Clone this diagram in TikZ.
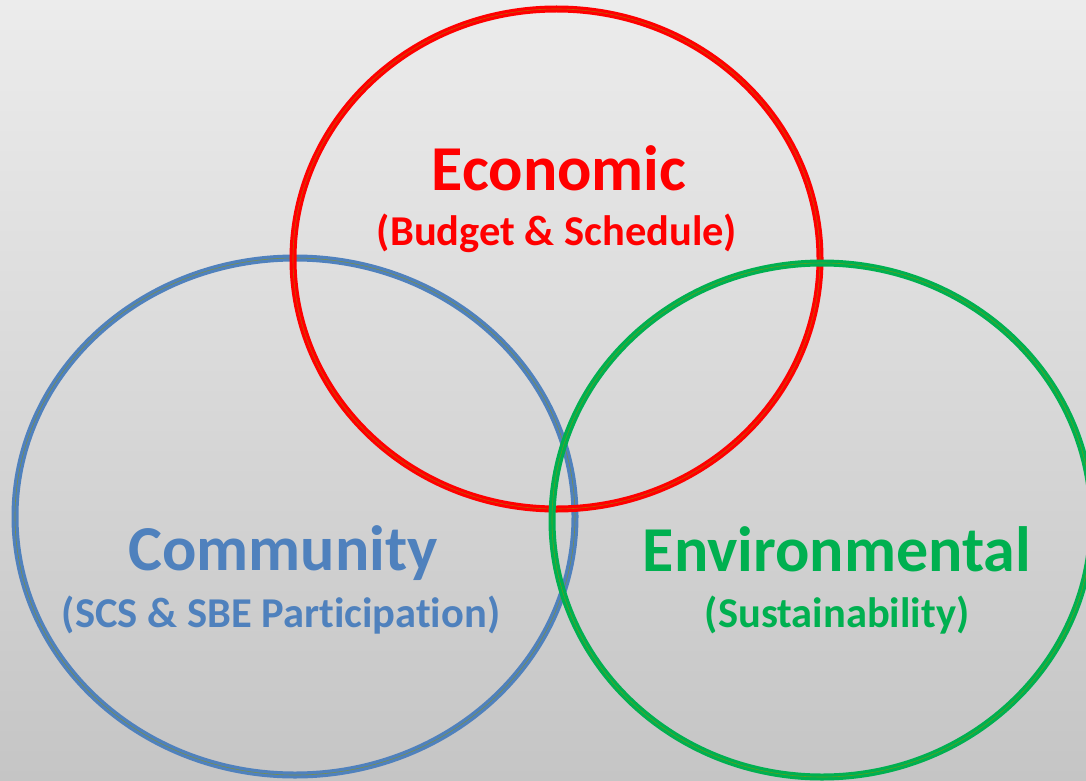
\documentclass[tikz,border=0pt]{standalone}
\usepackage{fontspec}
\setmainfont[Ligatures=NoCommon]{Carlito}
\usetikzlibrary{shapes.geometric}
\definecolor{econred}{RGB}{255,0,0}
\definecolor{commblue}{RGB}{79,129,189}
\definecolor{envgreen}{RGB}{0,176,80}
\definecolor{olivemid}{RGB}{150,150,0}
\definecolor{bgtop}{RGB}{236,236,236}
\definecolor{bgbot}{RGB}{197,197,197}
\tikzset{
  ring/.style={draw, ellipse, inner sep=0pt, line width=7pt},
  title/.style={font=\bfseries\fontsize{64}{70}\selectfont, anchor=base, inner sep=0pt},
  subtitle/.style={font=\bfseries\fontsize{42.5}{48}\selectfont, anchor=base, inner sep=0pt},
  midline/.style={draw=olivemid, draw opacity=0.6, line width=0.6pt, ellipse, inner sep=0pt}
}
\begin{document}
\begin{tikzpicture}[x=1pt,y=-1pt]
\useasboundingbox (0,0) rectangle (1086,781);
\clip (0,0) rectangle (1086,781);
\shade[top color=bgtop, bottom color=bgbot] (0,0) rectangle (1086,781);
% Community (blue)
\node[ring, draw=commblue, minimum width=560pt, minimum height=517pt] (comm) at (295,516.5) {};
\node[midline, minimum width=560pt, minimum height=517pt] (commmid) at (295,516.5) {};
% Economic (red)
\node[ring, draw=econred, minimum width=527pt, minimum height=500pt] (econ) at (556.5,259) {};
\node[midline, minimum width=527pt, minimum height=500pt] (econmid) at (556.5,259) {};
% Environmental (green)
\node[ring, draw=envgreen, minimum width=540pt, minimum height=514pt] (env) at (822,520) {};
\node[midline, minimum width=540pt, minimum height=514pt] (envmid) at (822,520) {};
% Labels
\node[title, text=econred] (econt) at (559,190) {Economic};
\node[subtitle, text=econred] (econs) at (557,245) {(Budget \& Schedule)};
\node[title, text=commblue] (commt) at (283,570) {Community};
\node[subtitle, text=commblue] (comms) at (281,627) {(SCS \& SBE Participation)};
\node[title, text=envgreen] (envt) at (837,571) {Environmental};
\node[subtitle, text=envgreen] (envs) at (837,627) {(Sustainability)};
\end{tikzpicture}
\end{document}
